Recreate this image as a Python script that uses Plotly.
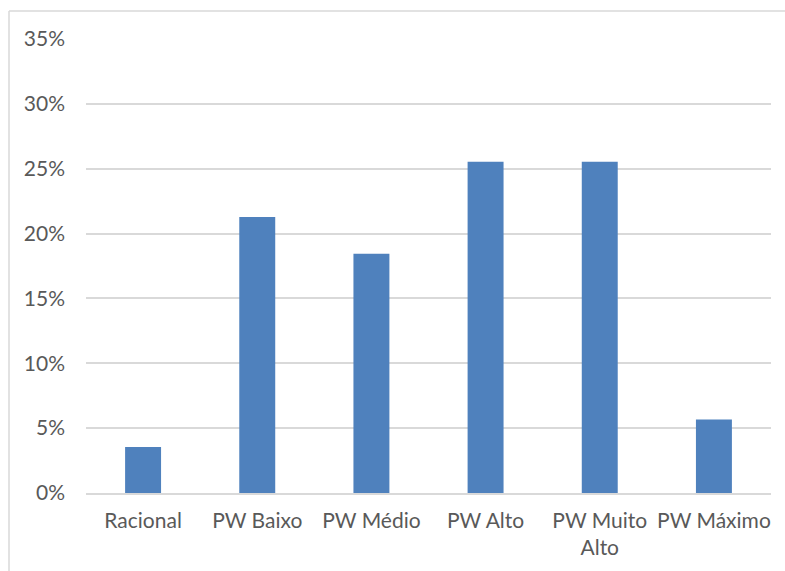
import plotly.graph_objects as go

categories = ["Racional", "PW Baixo", "PW Médio", "PW Alto", "PW Muito<br>Alto", "PW Máximo"]
shares = [0.0355, 0.2128, 0.1844, 0.2553, 0.2553, 0.0567]
tick_vals = [0, 0.05, 0.10, 0.15, 0.20, 0.25, 0.30, 0.35]
tick_text = ["0%", "5%", "10%", "15%", "20%", "25%", "30%", "35%"]

BAR = "#4F81BD"
GRID = "#D9D9D9"
TXT = "#595959"
FONT = "Lato"
FS = 21

fig = go.Figure(
    go.Bar(x=categories, y=shares, marker=dict(color=BAR, line=dict(width=0)))
)

# chart frame (top and left edges of the outer box)
frame = dict(color=GRID, width=1.5)
fig.add_shape(type="line", xref="paper", yref="paper",
              x0=-0.1124, x1=1.05, y0=1.0617, y1=1.0617, line=frame)
fig.add_shape(type="line", xref="paper", yref="paper",
              x0=-0.1124, x1=-0.1124, y0=1.0617, y1=-0.2, line=frame)

tick_font = dict(family=FONT, size=FS, color=TXT, weight=400)

fig.update_layout(
    width=785, height=571,
    margin=dict(l=86, r=14, t=39, b=78),
    paper_bgcolor="white", plot_bgcolor="white",
    bargap=0.685,
    showlegend=False,
    font=dict(family=FONT, size=FS, color=TXT),
    xaxis=dict(showgrid=False, showline=True, linecolor=GRID, linewidth=1.5,
               ticks="", ticklabelstandoff=8, tickfont=tick_font),
    yaxis=dict(range=[0, 0.35], tickvals=tick_vals, ticktext=tick_text,
               showgrid=True, gridcolor=GRID, gridwidth=1.5,
               zeroline=False, showline=False, ticks="",
               ticklabelstandoff=20, tickfont=tick_font),
)

fig.write_html("out.html")
